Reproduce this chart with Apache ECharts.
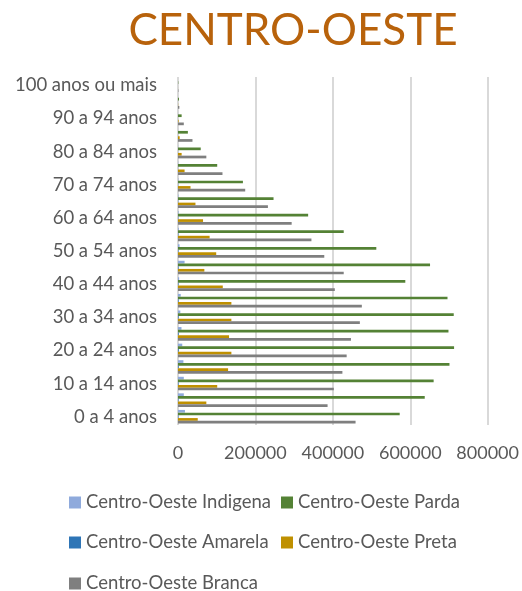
<!DOCTYPE html>
<html>
<head>
<meta charset="utf-8">
<script src="https://cdn.jsdelivr.net/npm/echarts@6/dist/echarts.min.js"></script>
<style>
  html, body { margin: 0; padding: 0; background: #fff; }
  #chart { width: 522px; height: 591px; }
</style>
</head>
<body>
<div id="chart"></div>
<script>
// faixas etarias, de baixo para cima
var categories = ['0 a 4 anos', '5 a 9 anos', '10 a 14 anos', '15 a 19 anos', '20 a 24 anos',
  '25 a 29 anos', '30 a 34 anos', '35 a 39 anos', '40 a 44 anos', '45 a 49 anos',
  '50 a 54 anos', '55 a 59 anos', '60 a 64 anos', '65 a 69 anos', '70 a 74 anos',
  '75 a 79 anos', '80 a 84 anos', '85 a 89 anos', '90 a 94 anos', '95 a 99 anos',
  '100 anos ou mais'];

var indigena = [18000, 15000, 15000, 14000, 11000, 9000, 6000, 7000, 3000, 17000,
  4000, 2000, 1500, 1200, 900, 600, 400, 200, 100, 50, 20];
var parda = [572700, 637400, 660400, 701300, 713200, 698700, 712300, 696200, 587200, 651100,
  512300, 428100, 336200, 246800, 167700, 101300, 58700, 25500, 9400, 2500, 800];
var amarela = [1200, 1300, 1500, 1800, 2000, 1900, 1700, 1600, 1400, 1500,
  1300, 1100, 900, 700, 500, 300, 200, 100, 50, 10, 5];
var preta = [51000, 73200, 101300, 129400, 137900, 131900, 137900, 137900, 115700, 68100,
  98700, 81700, 64700, 45100, 32300, 17000, 9400, 4300, 1500, 400, 100];
var branca = [458700, 386400, 402500, 424700, 435700, 446800, 469800, 474900, 405100, 428100,
  377900, 344700, 293600, 232300, 173600, 114900, 73200, 37400, 15000, 3500, 1000];

var xTicks = [0, 200000, 400000, 600000, 800000];

// legenda na ordem do Excel (2 colunas)
var seriesNames = ['Centro-Oeste Indigena', 'Centro-Oeste Parda', 'Centro-Oeste Amarela',
  'Centro-Oeste Preta', 'Centro-Oeste Branca'];
var seriesColors = ['#8FAADC', '#548235', '#2E75B6', '#BF9000', '#7F7F7F'];
var seriesData = [indigena, parda, amarela, preta, branca];

var FONT = 'Lato';
var chart = echarts.init(document.getElementById('chart'));

var legendCols = [69, 281];
var legendRows = [493, 533, 574];
var legends = seriesNames.map(function (name, i) {
  return {
    left: legendCols[i % 2],
    top: legendRows[Math.floor(i / 2)],
    padding: 0,
    itemWidth: 12,
    itemHeight: 12,
    icon: 'rect',
    textStyle: { color: '#595959', fontSize: 18.5, fontFamily: FONT },
    data: [name]
  };
});

var option = {
  animation: false,
  textStyle: { fontFamily: FONT },
  title: {
    text: 'CENTRO-OESTE',
    left: 288,
    textAlign: 'center',
    top: 4,
    textStyle: { color: '#B8620B', fontSize: 44, fontWeight: 'normal', fontFamily: FONT }
  },
  legend: legends,
  grid: { left: 178, right: 30, top: 77, bottom: 166, containLabel: false },
  xAxis: {
    type: 'value',
    min: xTicks[0],
    max: xTicks[xTicks.length - 1],
    interval: 200000,
    axisLine: { show: false },
    axisTick: { show: false },
    axisLabel: {
      color: '#595959', fontSize: 18, margin: 19, fontFamily: FONT,
      formatter: function (v) { return String(v); }
    },
    splitLine: { lineStyle: { color: '#D9D9D9', width: 2 } }
  },
  yAxis: {
    type: 'category',
    data: categories,
    axisLine: { show: false },
    axisTick: { show: false },
    axisLabel: { color: '#595959', fontSize: 18.5, margin: 21, interval: 1, fontFamily: FONT }
  },
  series: seriesNames.map(function (name, i) {
    return {
      name: name,
      type: 'bar',
      data: seriesData[i],
      itemStyle: { color: seriesColors[i] },
      barGap: '0%',
      barCategoryGap: '18%'
    };
  })
};

chart.setOption(option);
</script>
</body>
</html>
